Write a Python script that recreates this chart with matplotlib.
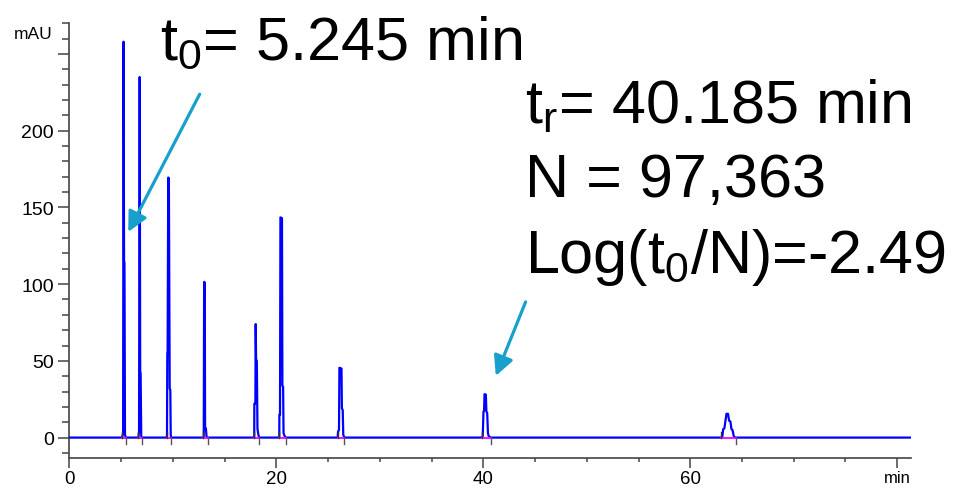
import matplotlib
matplotlib.use('Agg')
import matplotlib.pyplot as plt
from matplotlib.ticker import MultipleLocator

plt.rcParams['font.family'] = 'Liberation Sans'
plt.rcParams['mathtext.fontset'] = 'custom'
plt.rcParams['mathtext.rm'] = 'Liberation Sans'
plt.rcParams['mathtext.it'] = 'Liberation Sans'

# chromatogram peaks: sampled detector signal (min, mAU)
p1_t = [5.10, 5.20, 5.245, 5.29, 5.33, 5.38, 5.45]
p1_y = [0, 3, 258, 115, 114, 2, 0]
p2_t = [6.67, 6.74, 6.80, 6.85, 6.89, 6.95, 7.00]
p2_y = [0, 4, 235, 43, 42, 1, 0]
p3_t = [9.41, 9.44, 9.47, 9.50, 9.56, 9.62, 9.70, 9.76, 9.80, 9.83]
p3_y = [0, 1, 55, 56, 169.5, 169, 32, 31, 2, 0]
p4_t = [12.95, 12.99, 13.03, 13.09, 13.12, 13.20, 13.26, 13.37]
p4_y = [0, 1, 101.5, 101, 6, 6, 0.5, 0]
p5_t = [17.87, 17.88, 17.94, 17.98, 18.01, 18.05, 18.12, 18.18, 18.24, 18.30, 18.36]
p5_y = [0, 22, 22, 23, 74, 51, 50, 6, 3, 1, 0]
p6_t = [20.29, 20.30, 20.36, 20.40, 20.55, 20.59, 20.66, 20.70, 20.80, 20.94]
p6_y = [0, 15, 15, 143.5, 143, 34, 33, 3, 1, 0]
p7_t = [25.93, 25.97, 26.06, 26.10, 26.30, 26.34, 26.42, 26.47, 26.57]
p7_y = [0, 4, 5, 45.5, 45, 19, 18, 2, 0]
p8_t = [39.85, 39.95, 40.02, 40.08, 40.12, 40.25, 40.30, 40.38, 40.45, 40.52, 40.74]
p8_y = [0, 1, 17, 17.5, 28.3, 28, 17, 16, 3, 1, 0]
p9_t = [62.97, 63.10, 63.18, 63.30, 63.40, 63.50, 63.65, 63.75, 63.88, 63.98, 64.08, 64.22, 64.41]
p9_y = [0, 0.5, 5.5, 6, 11, 15.5, 15.5, 11, 10.5, 5.5, 5, 0.5, 0]

# integration start / end of each peak
int_start = [5.06, 6.67, 9.41, 12.95, 17.87, 20.29, 25.93, 39.85, 62.97]
int_end = [5.45, 7.00, 9.83, 13.37, 18.36, 20.94, 26.57, 40.74, 64.41]

t_end = 81.3

times = [0] + p1_t + p2_t + p3_t + p4_t + p5_t + p6_t + p7_t + p8_t + p9_t + [t_end]
signal = [0] + p1_y + p2_y + p3_y + p4_y + p5_y + p6_y + p7_y + p8_y + p9_y + [0]

fig = plt.figure(figsize=(9.65, 4.89), dpi=100)
ax = fig.add_axes([69.3 / 965, 30 / 489, (910.7 - 69.3) / 965, 435 / 489])

ax.plot(times, signal, color='#0000ff', lw=1.6, zorder=3)

# integration baselines and markers
for s, e in zip(int_start, int_end):
    ax.plot([s, e], [0, 0], color='#ff00ff', lw=1.3, zorder=4)
    ax.plot([s, s], [0, 3.5], color='#333333', lw=1.0, zorder=4)
    ax.plot([e, e], [0, -4.5], color='#555555', lw=1.0, zorder=4)

ax.set_xlim(0, t_end)
ax.set_ylim(-13.3, 270.2)

for side in ['top', 'right']:
    ax.spines[side].set_visible(False)
for side in ['left', 'bottom']:
    ax.spines[side].set_color('#444444')
    ax.spines[side].set_linewidth(1.2)

ax.set_xticks([0, 20, 40, 60, 80])
ax.set_xticklabels(['0', '20', '40', '60', 'min'])
ax.xaxis.set_minor_locator(MultipleLocator(5))
ax.set_yticks([0, 50, 100, 150, 200, 250])
ax.set_yticklabels(['0', '50', '100', '150', '200', ''])
ax.yaxis.set_minor_locator(MultipleLocator(10))

ax.tick_params(axis='x', which='major', length=7, width=1.1, color='#444444', labelsize=13.5, pad=1.5)
ax.tick_params(axis='x', which='minor', length=3, width=1.1, color='#444444')
ax.tick_params(axis='y', which='major', length=8, width=1.1, color='#444444', labelsize=14, pad=3)
ax.tick_params(axis='y', which='minor', length=5, width=1.1, color='#444444')
ax.get_xticklabels()[-1].set_fontsize(12)

fig.text(53 / 965, 1 - 39 / 489, 'mAU', ha='right', va='baseline', fontsize=12.5)

# arrows pointing at t0 and the retained peak
arrow_color = '#17a0cc'
ax.annotate('', xy=(5.57, 132.4), xytext=(12.72, 225.4),
            arrowprops=dict(arrowstyle='-|>', color=arrow_color, lw=2.3, mutation_scale=30))
ax.annotate('', xy=(41.11, 38.5), xytext=(44.19, 90.1),
            arrowprops=dict(arrowstyle='-|>', color=arrow_color, lw=2.3, mutation_scale=30))

fig.text(160 / 965, 1 - 59 / 489, r'$\mathregular{t_0}$= 5.245 min', fontsize=44, va='baseline')
fig.text(525 / 965, 1 - 123 / 489, r'$\mathregular{t_r}$= 40.185 min', fontsize=44, va='baseline')
fig.text(525 / 965, 1 - 197 / 489, 'N = 97,363', fontsize=44, va='baseline')
fig.text(525 / 965, 1 - 273 / 489, r'Log($\mathregular{t_0}$/N)=-2.49', fontsize=44, va='baseline')

plt.savefig('out.png', dpi=100)
